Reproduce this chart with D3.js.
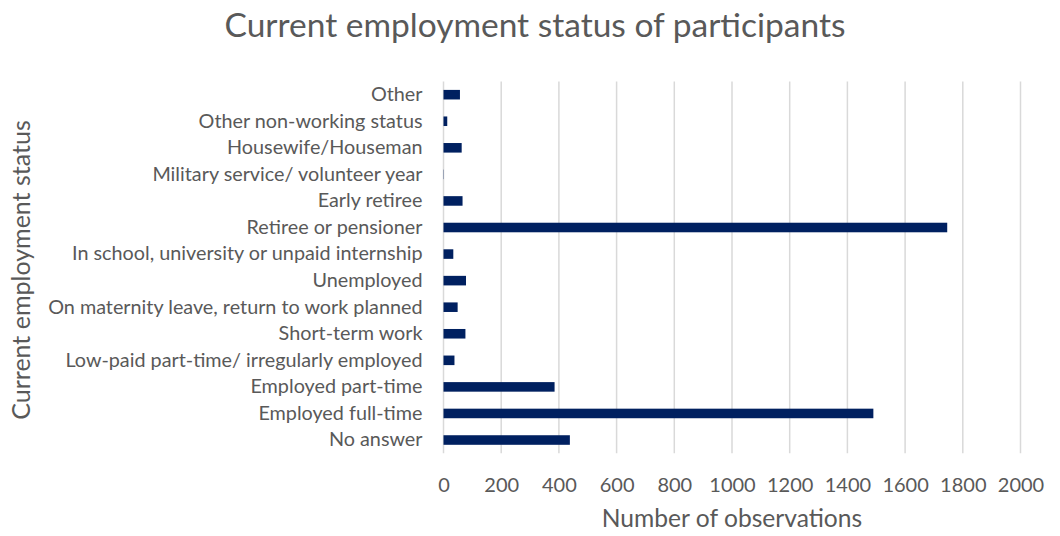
<!DOCTYPE html>
<html>
<head>
<meta charset="utf-8">
<script src="https://cdn.jsdelivr.net/npm/d3@7"></script>
<style>
  html, body { margin: 0; padding: 0; background: #fff; }
  svg text { font-family: Lato, "Open Sans", sans-serif; fill: #595959; }
</style>
</head>
<body>
<svg id="chart" width="1060" height="536"></svg>
<script>
// Employment status categories, listed bottom to top as drawn
const categories = [
  "No answer",
  "Employed full-time",
  "Employed part-time",
  "Low-paid part-time/ irregularly employed",
  "Short-term work",
  "On maternity leave, return to work planned",
  "Unemployed",
  "In school, university or unpaid internship",
  "Retiree or pensioner",
  "Early retiree",
  "Military service/ volunteer year",
  "Housewife/Houseman",
  "Other non-working status",
  "Other"
];
const observations = [438, 1490, 385, 38, 76, 49, 78, 34, 1746, 66, 1, 63, 13, 57];
const xTicks = [0, 200, 400, 600, 800, 1000, 1200, 1400, 1600, 1800, 2000];

const titleText = "Current employment status of participants";
const xTitle = "Number of observations";
const yTitle = "Current employment status";

const svg = d3.select("#chart");
const W = 1060, H = 536;
const margin = { left: 443.5, right: W - 1020.5, top: 81.4, bottom: H - 453.3 };

const x = d3.scaleLinear().domain([0, 2000]).range([margin.left, W - margin.right]);
const y = d3.scaleBand()
  .domain(categories.slice().reverse())
  .range([margin.top, H - margin.bottom])
  .paddingInner(0.64)
  .paddingOuter(0.32);

// vertical gridlines
svg.append("g")
  .selectAll("line")
  .data(xTicks)
  .join("line")
  .attr("x1", d => x(d)).attr("x2", d => x(d))
  .attr("y1", margin.top).attr("y2", H - margin.bottom)
  .attr("stroke", "#d9d9d9")
  .attr("stroke-width", 1.5);

// bars
svg.append("g")
  .selectAll("rect")
  .data(categories.map((c, i) => ({ c, v: observations[i] })))
  .join("rect")
  .attr("x", x(0))
  .attr("y", d => y(d.c))
  .attr("width", d => x(d.v) - x(0))
  .attr("height", y.bandwidth())
  .attr("fill", "#002060");

// x axis tick labels
const xAxis = d3.axisBottom(x).tickValues(xTicks).tickSize(0).tickPadding(0).tickFormat(d3.format("d"));
const gx = svg.append("g")
  .attr("transform", `translate(0, ${H - margin.bottom})`)
  .call(xAxis);
gx.select(".domain").remove();
gx.selectAll("text")
  .attr("dy", null)
  .attr("y", 38.7)
  .style("font-size", "20px")
  .attr("fill", "#595959");

// y axis category labels
const yAxis = d3.axisLeft(y).tickSize(0).tickPadding(21);
const gy = svg.append("g")
  .attr("transform", `translate(${margin.left}, 0)`)
  .call(yAxis);
gy.select(".domain").remove();
gy.selectAll("text")
  .style("font-size", "19.8px")
  .attr("fill", "#595959");

// titles
svg.append("text")
  .attr("x", 535).attr("y", 37)
  .attr("text-anchor", "middle")
  .style("font-size", "33.5px")
  .text(titleText);

svg.append("text")
  .attr("x", (x(0) + x(2000)) / 2).attr("y", 527)
  .attr("text-anchor", "middle")
  .style("font-size", "24.6px")
  .text(xTitle);

svg.append("text")
  .attr("transform", `translate(30, 270) rotate(-90)`)
  .attr("text-anchor", "middle")
  .style("font-size", "25px")
  .text(yTitle);
</script>
</body>
</html>
